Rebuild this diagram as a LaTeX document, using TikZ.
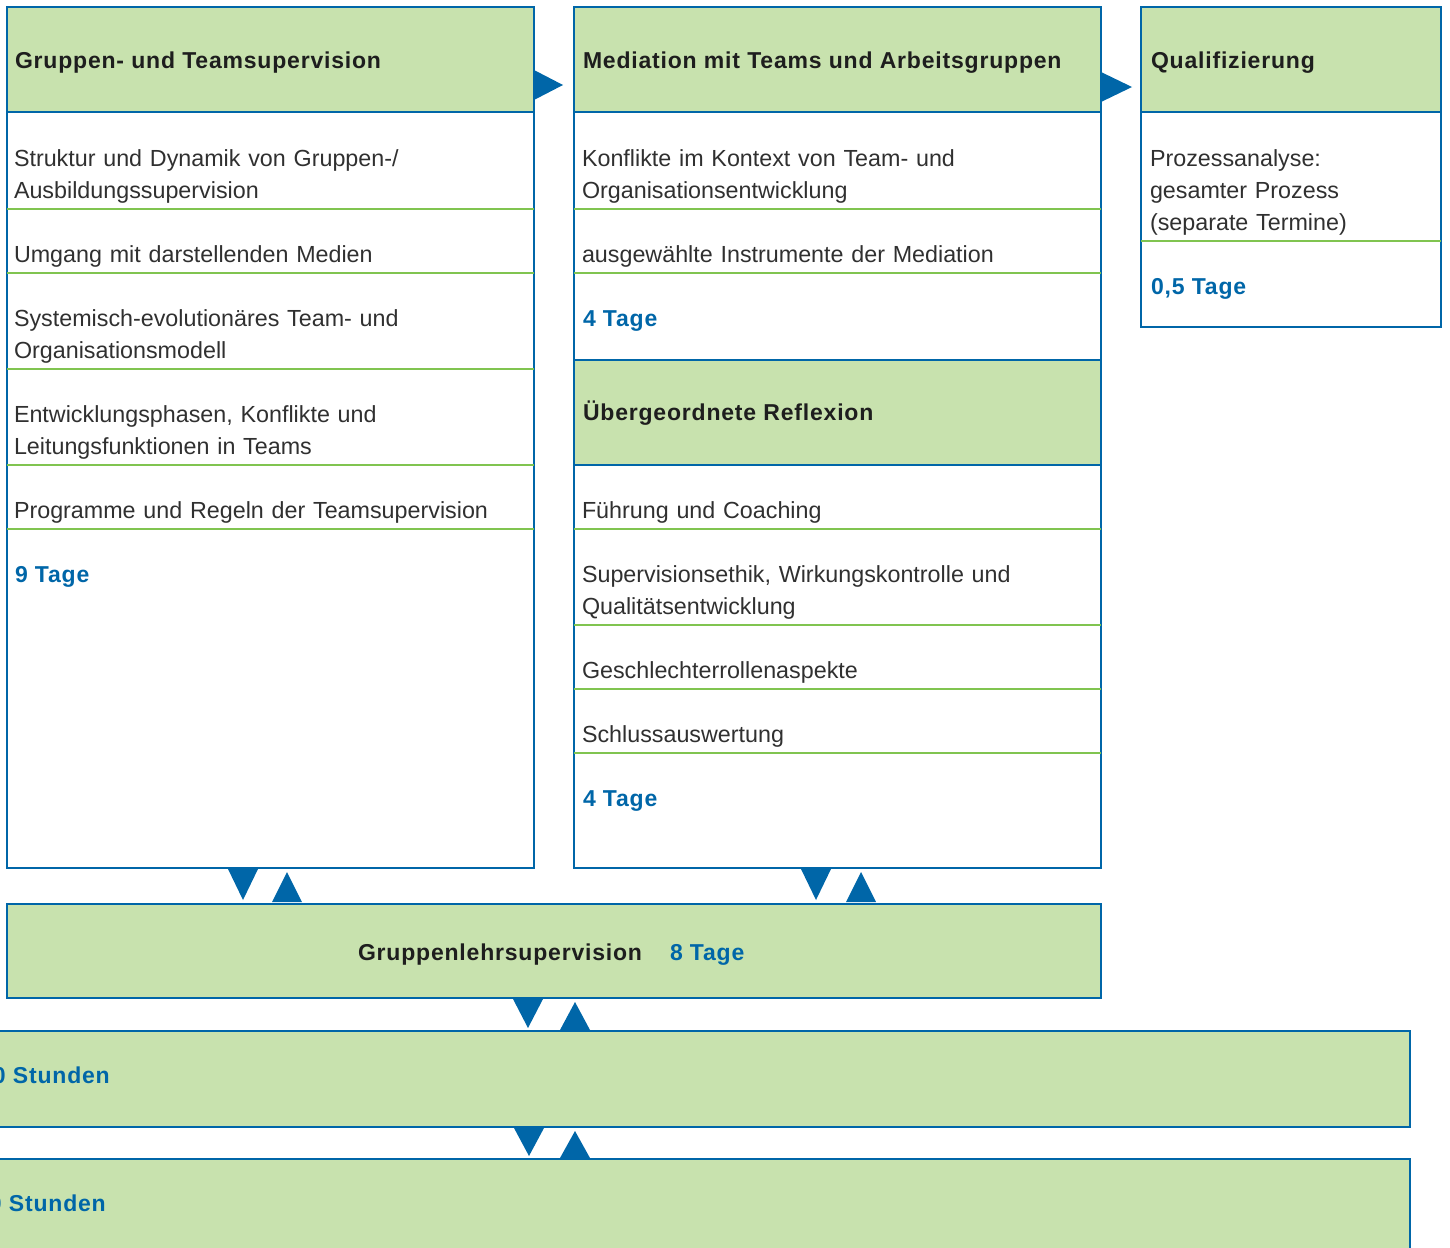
\documentclass[tikz,border=0pt]{standalone}
\usepackage{fontspec}
\setmainfont{Liberation Sans}
\newfontfamily\headfont[LetterSpace=3.5]{Liberation Sans}
\usetikzlibrary{positioning}
\definecolor{boxblue}{RGB}{0,102,168}
\definecolor{headgreen}{RGB}{200,226,174}
\definecolor{rulegreen}{RGB}{128,196,80}
\definecolor{bodygray}{RGB}{48,48,48}
\definecolor{headblack}{RGB}{30,30,30}

\begin{document}
\begin{tikzpicture}[x=1pt,y=-1pt,
  every node/.style={inner sep=0pt,outer sep=0pt},
  box/.style={draw=boxblue,line width=2.6pt,anchor=north west},
  head/.style={box,fill=headgreen},
  rule/.style={draw=rulegreen,line width=1.6pt},
  entry/.style={anchor=base west,text width=500pt,align=left,text=bodygray,
                font=\fontsize{23.3}{32}\selectfont},
  title/.style={anchor=base west,text=headblack,
                font=\headfont\bfseries\fontsize{23}{28}\selectfont},
  days/.style={title,text=boxblue}]
  \useasboundingbox (0,0) rectangle (1450,1247);
  \clip (0,0) rectangle (1450,1247);

  % columns
  \node[box,minimum width=527pt,minimum height=861pt] (gts) at (7,7) {};
  \node[box,minimum width=527pt,minimum height=861pt] (med) at (574,7) {};
  \node[box,minimum width=300pt,minimum height=320pt] (qual) at (1141,7) {};

  % green rows
  \foreach \y in {209,273,369,465,529}
    \draw[rule] (gts.west |- 0,\y) -- (gts.east |- 0,\y);
  \foreach \y in {209,273,529,625,689,753}
    \draw[rule] (med.west |- 0,\y) -- (med.east |- 0,\y);
  \draw[rule] (qual.west |- 0,241) -- (qual.east |- 0,241);

  % headers
  \node[head,minimum width=527pt,minimum height=105pt] (gtsHead) at (7,7) {};
  \node[head,minimum width=527pt,minimum height=105pt] (medHead) at (574,7) {};
  \node[head,minimum width=527pt,minimum height=105pt] (reflHead) at (574,360) {};
  \node[head,minimum width=300pt,minimum height=105pt] (qualHead) at (1141,7) {};

  % bars
  \node[head,minimum width=1094pt,minimum height=94pt] (gls) at (7,904) {};
  \node[head,minimum width=1425pt,minimum height=96pt] (std1) at (-15,1031) {};
  \node[head,minimum width=1425pt,minimum height=120pt] (std2) at (-15,1159) {};

  % arrows
  \fill[boxblue] (534,70) -- (563,85) -- (534,100) -- cycle;
  \fill[boxblue] (1101,72) -- (1132,87) -- (1101,102) -- cycle;
  \foreach \dx/\ux/\top/\bot in {243/287/869/902, 816/861/869/902,
                                 528/575/999/1030, 529/575/1128/1158}{
    \fill[boxblue] (\dx-15,\top) -- (\dx+15,\top) -- (\dx,\bot-2) -- cycle;
    \fill[boxblue] (\ux-15,\bot) -- (\ux+15,\bot) -- (\ux,\top+3) -- cycle;
  }

  % texts, column 1
  \node[title] (gtsT) at (15,68) {Gruppen- und Teamsupervision};
  \node[entry] (gts1) at (14,166) {Struktur und Dynamik von Gruppen-/\\Ausbildungssupervision};
  \node[entry] (gts2) at (14,262) {Umgang mit darstellenden Medien};
  \node[entry] (gts3) at (14,326) {Systemisch-evolution\"ares Team- und\\Organisationsmodell};
  \node[entry] (gts4) at (14,422) {Entwicklungsphasen, Konflikte und\\Leitungsfunktionen in Teams};
  \node[entry] (gts5) at (14,518) {Programme und Regeln der Teamsupervision};
  \node[days] (gtsD) at (15,582) {9 Tage};

  % texts, column 2
  \node[title] (medT) at (583,68) {Mediation mit Teams und Arbeitsgruppen};
  \node[entry] (med1) at (582,166) {Konflikte im Kontext von Team- und\\Organisationsentwicklung};
  \node[entry] (med2) at (582,262) {ausgew\"ahlte Instrumente der Mediation};
  \node[days] (medD) at (583,326) {4 Tage};
  \node[title] (reflT) at (583,420) {\"Ubergeordnete Reflexion};
  \node[entry] (refl1) at (582,518) {F\"uhrung und Coaching};
  \node[entry] (refl2) at (582,582) {Supervisionsethik, Wirkungskontrolle und\\Qualit\"atsentwicklung};
  \node[entry] (refl3) at (582,678) {Geschlechterrollenaspekte};
  \node[entry] (refl4) at (582,742) {Schlussauswertung};
  \node[days] (reflD) at (583,806) {4 Tage};

  % texts, column 3
  \node[title] (qualT) at (1151,68) {Qualifizierung};
  \node[entry,text width=280pt] (qual1) at (1150,166) {Prozessanalyse:\\gesamter Prozess\\(separate Termine)};
  \node[days] (qualD) at (1151,294) {0,5 Tage};

  % bars
  \node[title] (glsT) at (358,960) {Gruppenlehrsupervision};
  \node[days] (glsD) at (670,960) {8 Tage};
  \node[days] (std1T) at (-7,1083) {0 Stunden};
  \node[days] (std2T) at (-11,1211) {0 Stunden};
\end{tikzpicture}
\end{document}
